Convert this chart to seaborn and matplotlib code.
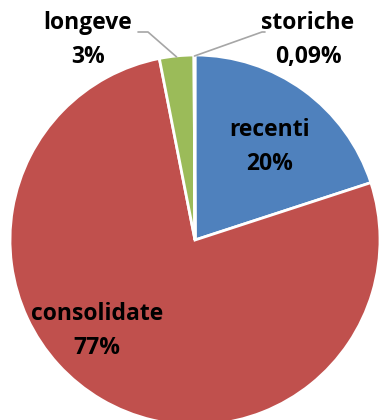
import numpy as np
import matplotlib
matplotlib.use("Agg")
import matplotlib.pyplot as plt
import seaborn as sns

# data
categories = ["recenti", "consolidate", "longeve", "storiche"]
shares = [20, 77, 3, 0.09]
share_labels = ["20%", "77%", "3%", "0,09%"]
colors = ["#4F81BD", "#C0504D", "#9BBB59", "#8064A2"]

sns.set_theme(style="white")
plt.rcParams['font.family'] = ['Open Sans', 'DejaVu Sans']

fig = plt.figure(figsize=(3.79, 4.2), dpi=100)
ax = fig.add_axes([0, 0, 1, 1])

cx, cy, R = 195, 180, 185
wedges, _ = ax.pie(shares, colors=colors, startangle=90, counterclock=False,
                   center=(cx, cy), radius=R, frame=True,
                   wedgeprops=dict(edgecolor='white', linewidth=2))
ax.set_xlim(0, 379)
ax.set_ylim(0, 420)
ax.set_aspect('equal')
ax.axis('off')

txt = dict(fontsize=16.5, fontweight='bold', color='black', ha='center', va='center',
           linespacing=1.6)

# inside labels
ax.text(270, 273, f"{categories[0]}\n{share_labels[0]}", **txt)
ax.text(97, 89, f"{categories[1]}\n{share_labels[1]}", **txt)

# outside labels with leader lines
def edge_point(w):
    ang = np.deg2rad((w.theta1 + w.theta2) / 2)
    return cx + R * np.cos(ang), cy + R * np.sin(ang)

for i, (lx, ly, side, hx) in zip([2, 3], [(88, 380, 138, 148), (308, 380, 265, 262)]):
    ex, ey = edge_point(wedges[i])
    ax.text(lx, ly, f"{categories[i]}\n{share_labels[i]}", **txt)
    ax.plot([side, hx, ex], [388, 388, ey - 1], color='#A6A6A6', lw=1.2)

fig.savefig("out.png", dpi=100)
